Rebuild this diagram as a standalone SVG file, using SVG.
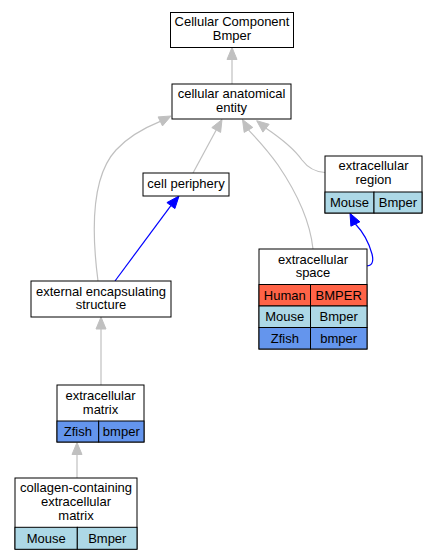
<svg xmlns="http://www.w3.org/2000/svg" width="437" height="560" viewBox="0 0 437 560">
<style>
text{font-family:"Liberation Sans",Arial,sans-serif;font-size:13px;text-anchor:middle;fill:#000}
.box{fill:#fff;stroke:#000;stroke-width:1}
.cell{stroke:#000;stroke-width:1}
.h{fill:#ff6347}.m{fill:#add8e6}.z{fill:#6495ed}
.eg{fill:none;stroke:#c0c0c0;stroke-width:1.2}
.ag{fill:#c0c0c0;stroke:#c0c0c0}
.eb{fill:none;stroke:#0000ff;stroke-width:1.2}
.ab{fill:#0000ff;stroke:#0000ff}
</style>
<rect width="437" height="560" fill="#fff"/>
<g id="edges">
<path class="eg" d="M232,84 V59.5"/><polygon class="ag" points="227,59.5 232,47.5 237,59.5"/>
<path class="eg" d="M193,173 L216.2,130"/><polygon class="ag" points="211.8,127.6 222,119.5 220.6,132.4"/>
<path class="eg" d="M98,281 C92,235 90,178 116,150 C128,137 144,128 160.3,121.4"/><polygon class="ag" points="158.1,116.9 171,116 162.5,125.9"/>
<path class="eg" d="M313,249 C310,220 295,190 278,165 C266,148 256,138 248.5,129.9"/><polygon class="ag" points="252.8,127.4 242.5,119.5 244.2,132.4"/>
<path class="eg" d="M325,172.5 C315,172 308,168 302,160 C295,150 282,139 266,128.2"/><polygon class="ag" points="269.1,124.3 256.7,120.7 262.9,132.1"/>
<path class="eb" d="M115,281 L170.9,205.6"/><polygon class="ab" points="166.9,202.6 179,196 174.9,208.6"/>
<path class="eb" d="M366,266 C372,266 374,262 372,254 C369,243 364,233 355.4,224"/><polygon class="ab" points="359.9,221.8 350,213.3 350.9,226.2"/>
<path class="eg" d="M101,385 V329"/><polygon class="ag" points="96,329 101,317 106,329"/>
<path class="eg" d="M77,478 V454.5"/><polygon class="ag" points="72,454.5 77,442.5 82,454.5"/>
</g>
<g id="n_cc">
<rect class="box" x="170.5" y="12.5" width="123" height="35"/>
<text x="232" y="25.5">Cellular Component</text><text x="232" y="39.5">Bmper</text>
</g>
<g id="n_cae">
<rect class="box" x="172" y="84" width="119" height="35"/>
<text x="231.5" y="98">cellular anatomical</text><text x="231.5" y="112">entity</text>
</g>
<g id="n_cp">
<rect class="box" x="143" y="173" width="86" height="23"/>
<text x="186" y="188">cell periphery</text>
</g>
<g id="n_ees">
<rect class="box" x="31" y="281" width="140" height="36"/>
<text x="101" y="295.5">external encapsulating</text><text x="101" y="309">structure</text>
</g>
<g id="n_er">
<rect class="box" x="325" y="156" width="97" height="57"/>
<rect class="cell m" x="325" y="192" width="49" height="21"/>
<rect class="cell m" x="374" y="192" width="48" height="21"/>
<text x="373.5" y="170">extracellular</text><text x="373.5" y="183.5">region</text>
<text x="349.5" y="206.5">Mouse</text><text x="398" y="206.5">Bmper</text>
</g>
<g id="n_es">
<rect class="box" x="259" y="249" width="108" height="100"/>
<rect class="cell h" x="259" y="284.5" width="51.5" height="21.5"/>
<rect class="cell h" x="310.5" y="284.5" width="56.5" height="21.5"/>
<rect class="cell m" x="259" y="306" width="51.5" height="21.5"/>
<rect class="cell m" x="310.5" y="306" width="56.5" height="21.5"/>
<rect class="cell z" x="259" y="327.5" width="51.5" height="21.5"/>
<rect class="cell z" x="310.5" y="327.5" width="56.5" height="21.5"/>
<text x="313" y="263.5">extracellular</text><text x="313" y="277">space</text>
<text x="284.8" y="299.5">Human</text><text x="338.7" y="299.5">BMPER</text>
<text x="284.8" y="321">Mouse</text><text x="338.7" y="321">Bmper</text>
<text x="284.8" y="342.5">Zfish</text><text x="338.7" y="342.5">bmper</text>
</g>
<g id="n_em">
<rect class="box" x="57" y="385" width="87" height="57"/>
<rect class="cell z" x="57" y="421" width="41.7" height="21"/>
<rect class="cell z" x="98.7" y="421" width="45.3" height="21"/>
<text x="100.5" y="400">extracellular</text><text x="100.5" y="413.5">matrix</text>
<text x="77.9" y="436">Zfish</text><text x="121.3" y="436">bmper</text>
</g>
<g id="n_ccem">
<rect class="box" x="15" y="478" width="122" height="71"/>
<rect class="cell m" x="15" y="527.3" width="62.3" height="22"/>
<rect class="cell m" x="77.3" y="527.3" width="59.7" height="22"/>
<text x="76" y="492.3">collagen-containing</text><text x="76" y="506.3">extracellular</text><text x="76" y="520.3">matrix</text>
<text x="46.3" y="543">Mouse</text><text x="107.3" y="543">Bmper</text>
</g>
</svg>
